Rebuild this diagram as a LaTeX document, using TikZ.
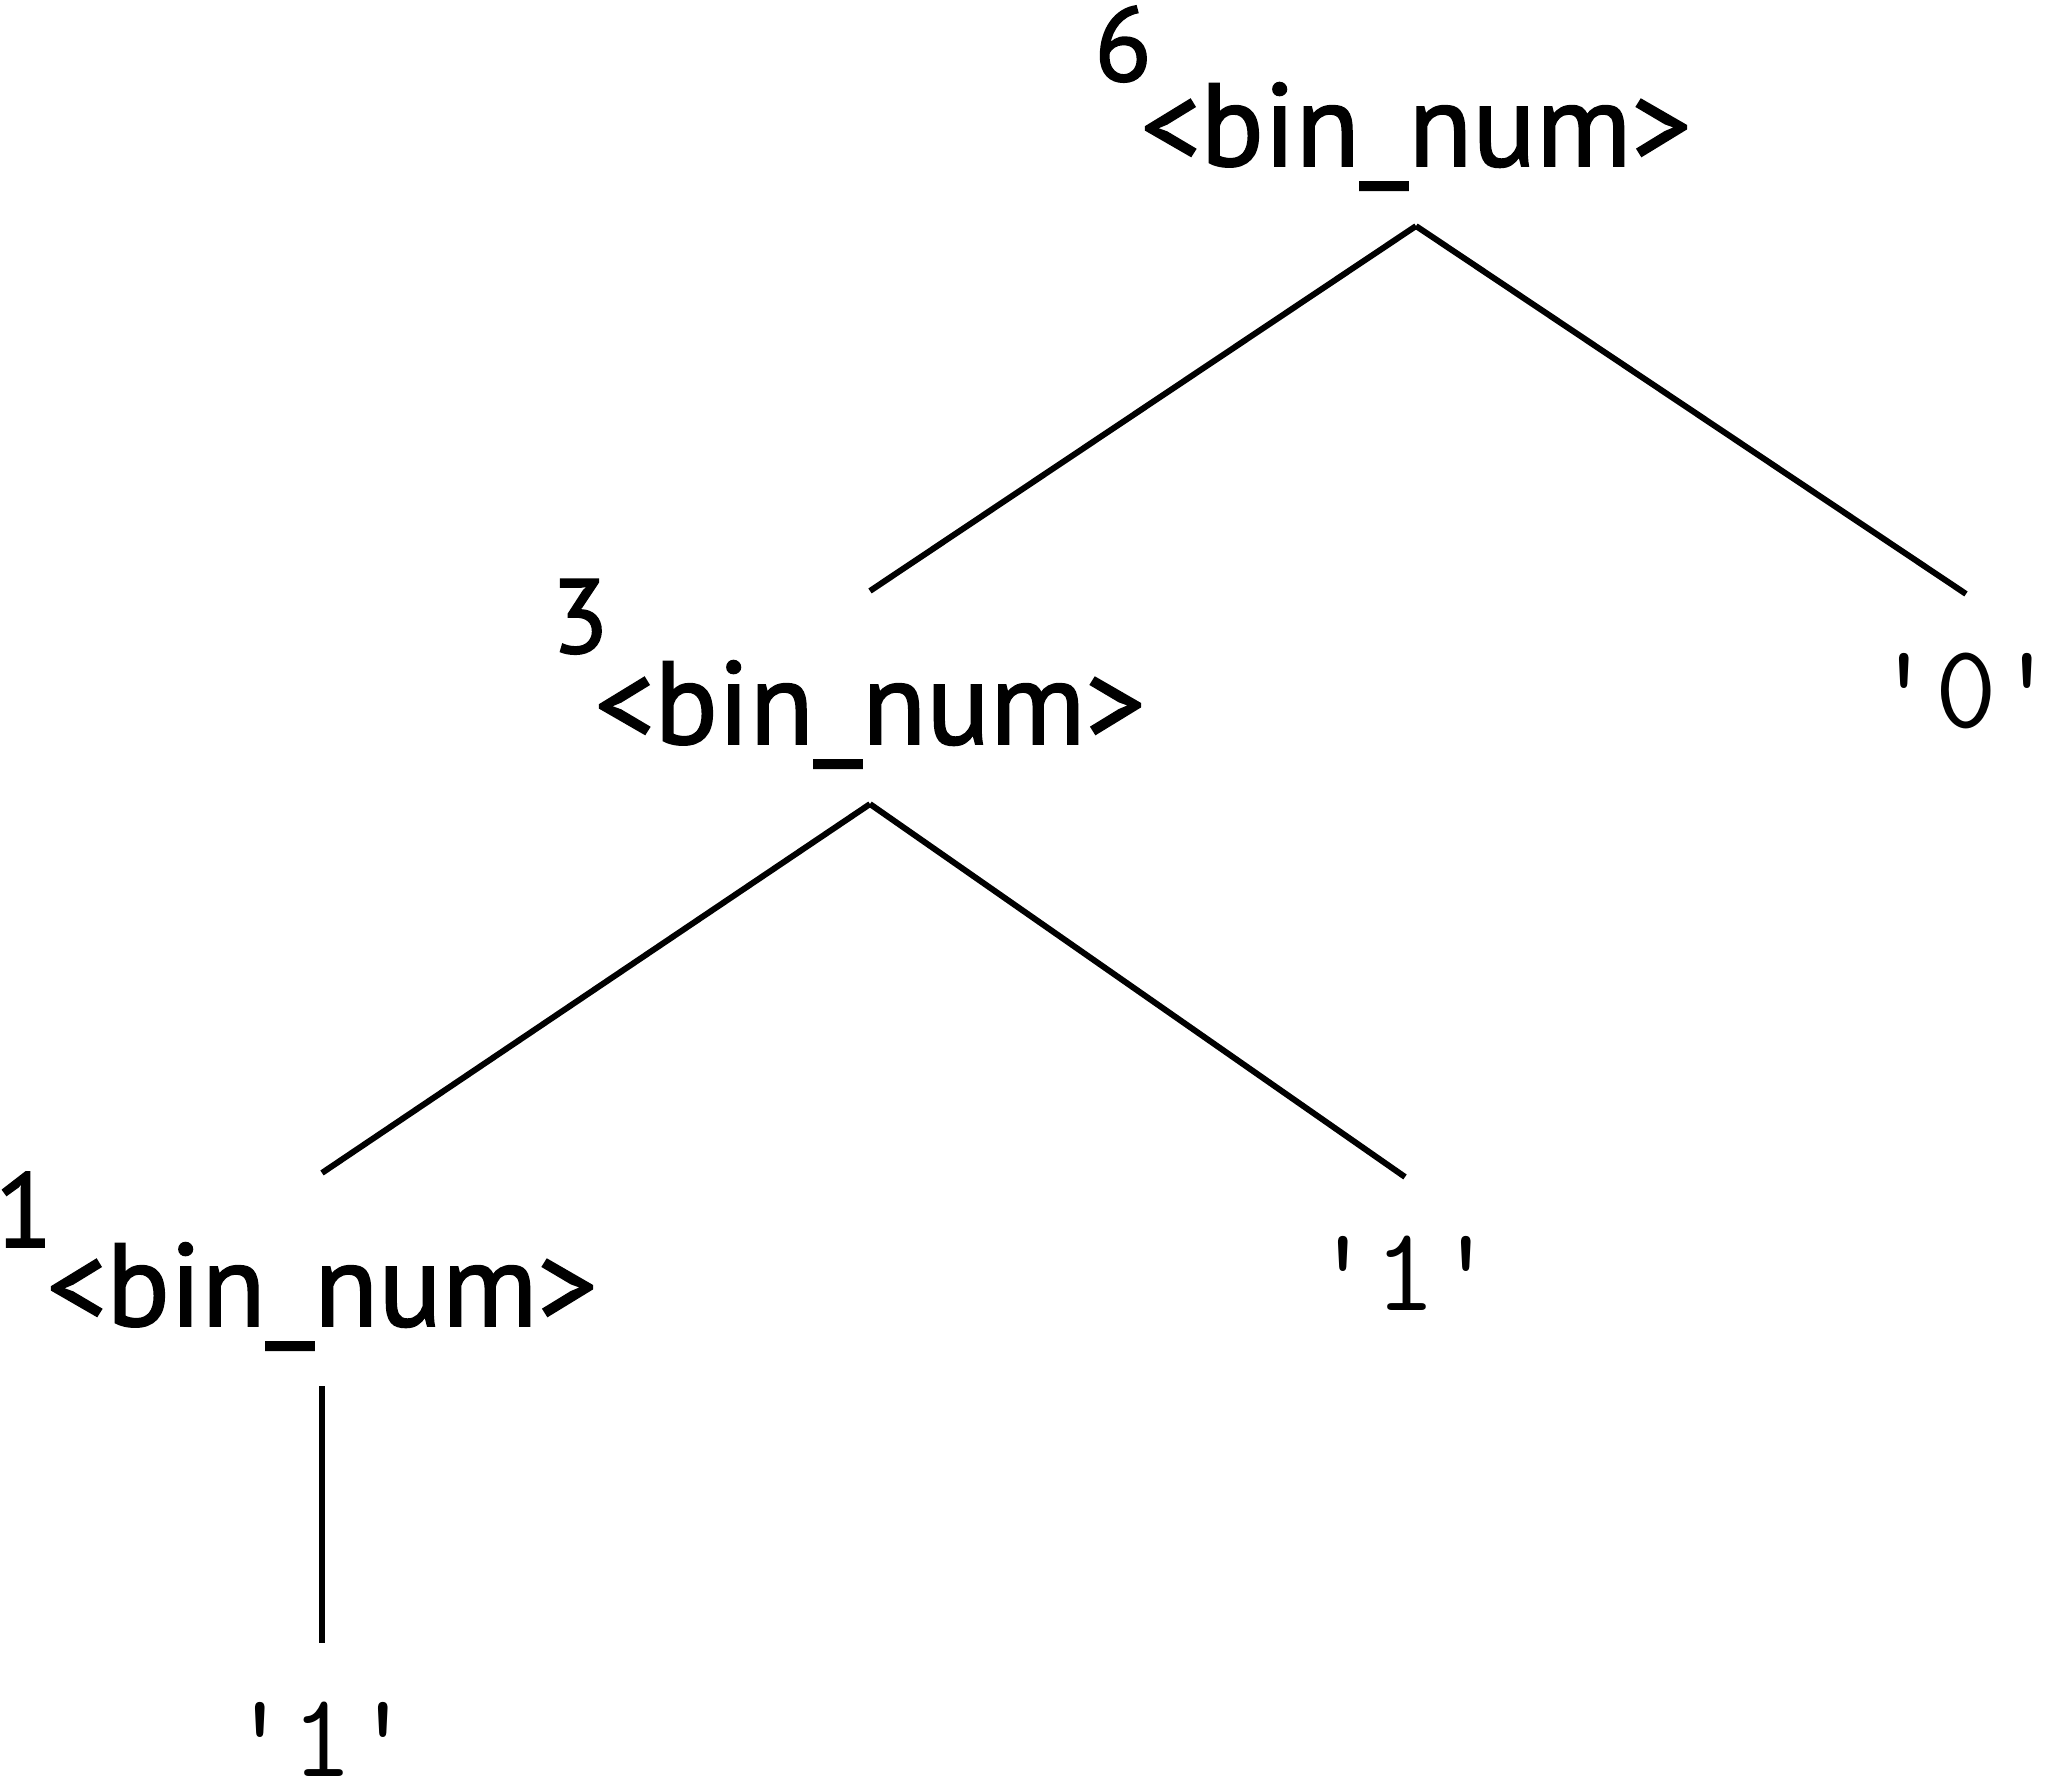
\documentclass[tikz,border=0pt]{standalone}
\usepackage{fontspec}
\newfontfamily\binfont{PT Sans}[FakeBold=1.5]
\tikzset{
  binnode/.style={inner sep=0pt,anchor=base,text height=1.5cm,text depth=0.57cm,
    font=\binfont\fontsize{33.5}{38}\selectfont},
  termnode/.style={inner sep=0pt,anchor=base,text height=1.3cm,text depth=0pt,
    font=\ttfamily\fontsize{34}{38}\selectfont},
  numnode/.style={inner sep=0pt,anchor=base,
    font=\binfont\fontsize{30}{34}\selectfont},
}
\newcommand{\q}[1]{\textquotesingle#1\textquotesingle}
\begin{document}
\begin{tikzpicture}[x=0.01cm,y=-0.01cm,line width=1.7pt]
    \useasboundingbox (0,0) rectangle (2048,1784);
    \node[binnode] (b6) at (1416,166) {<bin\_num>};
    \node[binnode] (b3) at (870,744) {<bin\_num>};
    \node[binnode] (b1) at (322,1326) {<bin\_num>};
    \node[termnode] (t0) at (1966,727) {\q{0}};
    \node[termnode] (t1a) at (1405,1310) {\q{1}};
    \node[termnode] (t1b) at (322,1776) {\q{1}};
    \node[numnode] (n6) at (1123,81) {6};
    \node[numnode] (n3) at (580,653) {3};
    \node[numnode] (n1) at (24,1247) {1};
    \draw (b6.south) -- (b3.north);
    \draw (b6.south) -- (t0.north);
    \draw (b3.south) -- (b1.north);
    \draw (b3.south) -- (t1a.north);
    \draw (b1.south) -- (t1b.north);
  \end{tikzpicture}
\end{document}
